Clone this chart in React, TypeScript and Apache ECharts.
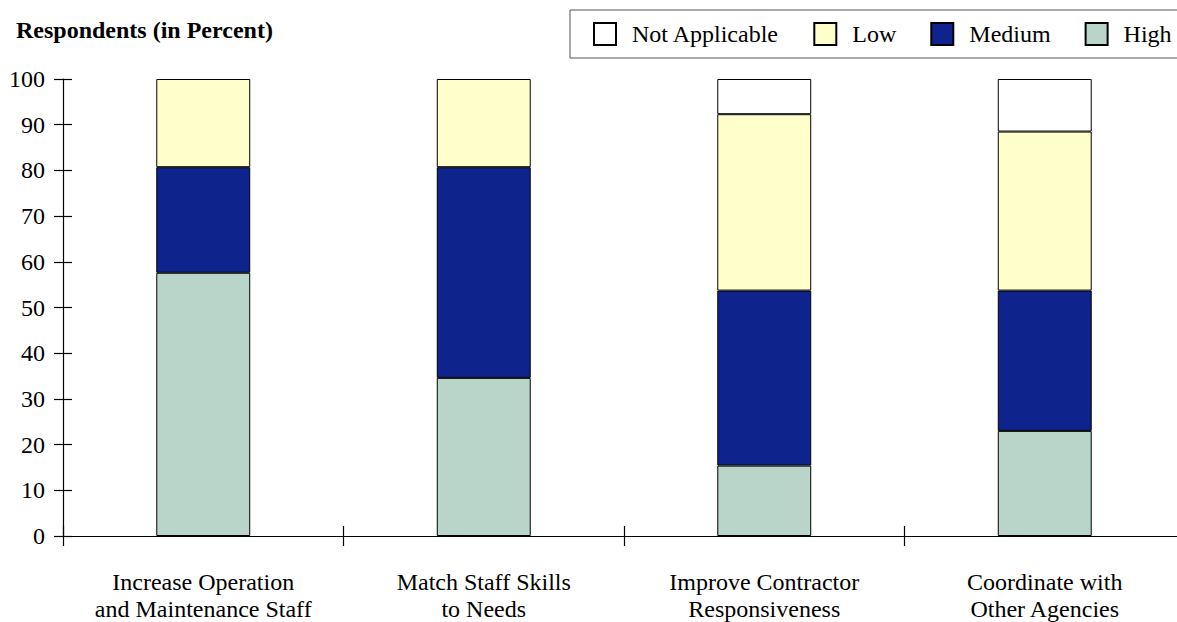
import React, { useEffect, useRef } from "react";
import * as echarts from "echarts";

const categories = [
  "Increase Operation\nand Maintenance Staff",
  "Match Staff Skills\nto Needs",
  "Improve Contractor\nResponsiveness",
  "Coordinate with\nOther Agencies",
];
const highValues = [57.6, 34.6, 15.4, 23.0];
const mediumValues = [23.1, 46.1, 38.3, 30.7];
const lowValues = [19.3, 19.3, 38.6, 34.8];
const notApplicableValues = [null, null, 7.7, 11.5];
const yTicks = { min: 0, max: 100, interval: 10 };

const FONT = "Liberation Serif";
const SIZE = 24;

export default function App() {
  const ref = useRef<HTMLDivElement>(null);

  useEffect(() => {
    if (!ref.current) return;
    const chart = echarts.init(ref.current, undefined, { renderer: "svg" });
    const mk = (name: string, data: (number | null)[], color: string) => ({
      name,
      type: "bar",
      stack: "total",
      barWidth: "33.5%",
      data,
      itemStyle: { color, borderColor: "#000", borderWidth: 1 },
    });
    const tickLine = { color: "#000", width: 1.2 };
    chart.setOption({
      animation: false,
      textStyle: { fontFamily: FONT, color: "#000" },
      title: {
        text: "Respondents (in Percent)",
        left: 11,
        top: 13,
        textStyle: { fontFamily: FONT, fontWeight: "bold", fontSize: 24, color: "#000" },
      },
      legend: {
        data: ["Not Applicable", "Low", "Medium", "High"],
        left: 570,
        top: 10,
        width: 900,
        orient: "horizontal",
        padding: [12, 40, 12, 23],
        itemWidth: 22,
        itemHeight: 22,
        itemGap: 34,
        borderColor: "#555",
        borderWidth: 1,
        icon: "rect",
        textStyle: { fontFamily: FONT, fontSize: SIZE, color: "#000", padding: [0, 0, 0, 11] },
      },
      grid: { left: 63, top: 79, width: 1122, height: 457, containLabel: false },
      xAxis: [
        {
          type: "category",
          data: categories,
          axisLine: { show: true, lineStyle: tickLine },
          axisTick: { show: true, interval: 0, length: 10, lineStyle: tickLine },
          axisLabel: { interval: 0, fontFamily: FONT, fontSize: SIZE, color: "#000", margin: 32, lineHeight: 27 },
        },
        {
          type: "category",
          data: categories,
          position: "bottom",
          axisLine: { show: false },
          axisTick: { show: true, interval: 0, inside: true, length: 10, lineStyle: tickLine },
          axisLabel: { show: false },
        },
      ],
      yAxis: [
        {
          type: "value",
          ...yTicks,
          axisLine: { show: true, lineStyle: tickLine },
          splitLine: { show: false },
          axisTick: { show: true, length: 9, lineStyle: tickLine },
          axisLabel: { fontFamily: FONT, fontSize: SIZE, color: "#000", margin: 18 },
        },
        {
          type: "value",
          ...yTicks,
          position: "left",
          axisLine: { show: false },
          splitLine: { show: false },
          axisTick: { show: true, inside: true, length: 9, lineStyle: tickLine },
          axisLabel: { show: false },
        },
      ],
      series: [
        mk("High", highValues, "#B9D5CA"),
        mk("Medium", mediumValues, "#0F238C"),
        mk("Low", lowValues, "#FFFFCC"),
        mk("Not Applicable", notApplicableValues, "#FFFFFF"),
      ],
    });
    return () => chart.dispose();
  }, []);

  return (
    <div style={{ position: "fixed", left: 0, top: 0, width: 1177, height: 622, overflow: "hidden", background: "#fff" }}>
      <div ref={ref} style={{ width: 1300, height: 622 }} />
    </div>
  );
}
